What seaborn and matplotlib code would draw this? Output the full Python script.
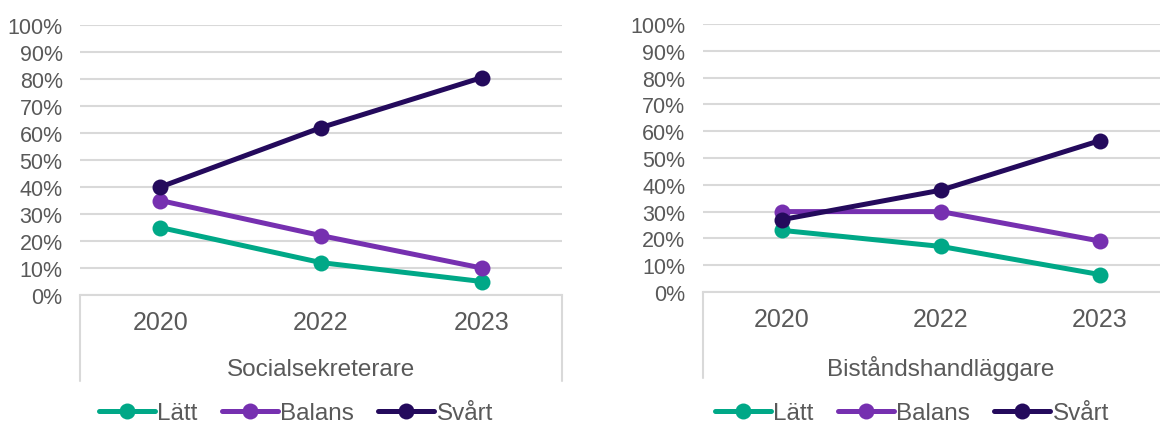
import pandas as pd
import matplotlib.pyplot as plt
import seaborn as sns

years = ["2020", "2022", "2023"]
series = ["Lätt", "Balans", "Svårt"]
colors = ["#00A887", "#7630B0", "#240A5C"]

# Socialsekreterare
soc_latt = [25, 12, 5]
soc_balans = [35, 22, 10]
soc_svart = [40, 62, 80.5]

# Biståndshandläggare
bist_latt = [23, 17, 6.5]
bist_balans = [30, 30, 19]
bist_svart = [27, 38, 56.5]

panels = [
    ("Socialsekreterare", [soc_latt, soc_balans, soc_svart]),
    ("Biståndshandläggare", [bist_latt, bist_balans, bist_svart]),
]

TEXT = "#595959"
GRID = "#D9D9D9"

sns.set_theme(style="white")
plt.rcParams["font.family"] = ["Liberation Sans", "DejaVu Sans"]

fig = plt.figure(figsize=(11.6, 4.27), dpi=100)
positions = [
    [80 / 1160, 1 - 296 / 427, 482 / 1160, 270 / 427],
    [702.5 / 1160, 1 - 293 / 427, 477 / 1160, 268 / 427],
]
legend_x = [296 / 1160, 912 / 1160]

for pos, lx, (group, values) in zip(positions, legend_x, panels):
    ax = fig.add_axes(pos)
    rows = []
    for name, vals in zip(series, values):
        for y, v in zip(years, vals):
            rows.append({"year": y, "serie": name, "value": v})
    df = pd.DataFrame(rows)

    sns.lineplot(data=df, x="year", y="value", hue="serie", hue_order=series,
                 palette=colors, marker="o", markersize=11.5, markeredgewidth=0,
                 linewidth=3.6, ax=ax, legend=True)

    ax.set_xlim(-0.5, 2.5)
    ax.set_ylim(0, 100)
    ax.set_yticks(range(0, 101, 10))
    ax.set_yticklabels([f"{t}%" for t in range(0, 101, 10)])
    ax.yaxis.grid(True, color=GRID, linewidth=1.5)
    ax.set_axisbelow(True)
    for s in ["top", "left", "right"]:
        ax.spines[s].set_visible(False)
    ax.spines["bottom"].set_color(GRID)
    ax.spines["bottom"].set_linewidth(1.5)
    ax.tick_params(axis="y", length=0, labelsize=15.5, labelcolor=TEXT, pad=12.5)
    ax.tick_params(axis="x", length=0, labelsize=18, labelcolor=TEXT, pad=11)
    ax.set_xlabel(group, fontsize=17.5, color=TEXT, labelpad=17)
    ax.set_ylabel("")

    # category box side lines
    for xe in (0, 1):
        ax.plot([xe, xe], [0, -0.32], transform=ax.transAxes, color=GRID,
                linewidth=1.5, clip_on=False)

    handles, labels = ax.get_legend_handles_labels()
    ax.legend(handles, labels, loc="center", ncol=3, frameon=False,
              bbox_to_anchor=(lx, 1 - 414 / 427), bbox_transform=fig.transFigure,
              fontsize=17.5, labelcolor=TEXT, handlelength=2.3,
              handletextpad=0.1, columnspacing=1.0, borderaxespad=0,
              borderpad=0)

fig.savefig("out.png", dpi=100)
